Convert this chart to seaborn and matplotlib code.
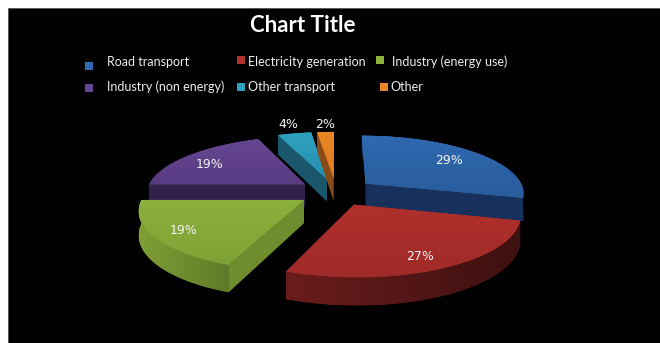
import numpy as np
import matplotlib
matplotlib.use("Agg")
import matplotlib.pyplot as plt
from matplotlib.colors import LinearSegmentedColormap
from matplotlib.patches import Polygon, Rectangle
import seaborn as sns

# ---- data ----
categories = ["Road transport", "Electricity generation", "Industry (energy use)",
              "Industry (non energy)", "Other transport", "Other"]
shares = [29, 27, 19, 19, 4, 2]
top_colors = ["#285c9c", "#a02a28", "#7fa236", "#593c82", "#2890ae", "#dc7a20"]
top_light = ["#2f69b0", "#b0302c", "#8cb03c", "#664692", "#2ea0c0", "#ea8624"]
face_colors = ["#17305c", "#5e1a1a", "#6f8c2e", "#33204c", "#1a566c", "#8a4c16"]
wall_left = ["#1b3766", "#6a1c1c", "#7f9f36", "#33204c", "#1a566c", "#8a4c16"]
wall_right = ["#162c54", "#3e1010", "#5f7a28", "#33204c", "#1a566c", "#8a4c16"]
legend_pos = [(89, 66, 107, 62), (241, 60, 248, 62), (380, 60, 392, 62),
              (89, 88, 107, 87), (241, 87, 248, 87), (384, 87, 390, 87)]
hide_start_wall = [True, False, False, False, False, False]

sns.set_theme(style="white")
plt.rcParams["font.family"] = ["Lato", "DejaVu Sans"]

W, H = 660, 343
fig = plt.figure(figsize=(W / 100, H / 100), dpi=100, facecolor="white")
ax = fig.add_axes([0, 0, 1, 1])
ax.set_xlim(0, W)
ax.set_ylim(H, 0)
ax.axis("off")
ax.add_patch(Rectangle((8, 8), W - 8, H - 8, fc="black", ec="#555555", lw=0.6, zorder=0))

# projection of the pie plane (unit radius) to the pixel scale
CX, CY, R, A, K, DEPTH, EXPL = 336, 192, 159, 57.5, 0.15, 23, 0.24


def proj(u, v, down=0.0):
    s = 1 / (1 + K * v)
    return CX + R * u * s, CY - A * v * s + DEPTH * down * s


def slice_pts(t0, t1, ex_u, ex_v):
    th = np.radians(np.linspace(t0, t1, 60))
    return np.sin(th) + ex_u, np.cos(th) + ex_v


def gradient_fill(pts, c0, c1, z, vertical=True):
    poly = Polygon(pts, closed=True, fc=c0, ec="none", zorder=z)
    ax.add_patch(poly)
    x0, y0 = pts.min(axis=0)
    x1, y1 = pts.max(axis=0)
    cmap = LinearSegmentedColormap.from_list("g", [c0, c1])
    ramp = np.linspace(0, 1, 64)
    img = ramp[:, None] if vertical else ramp[None, :]
    im = ax.imshow(img, extent=(x0, x1, y1, y0), cmap=cmap, aspect="auto",
                   zorder=z, interpolation="bilinear")
    im.set_clip_path(poly)


bounds = np.concatenate([[0], np.cumsum(shares)]) / sum(shares) * 360
order = [4, 5, 0, 3, 2, 1]
for rank, i in enumerate(order):
    t0, t1 = bounds[i], bounds[i + 1]
    mid = np.radians((t0 + t1) / 2)
    eu, ev = EXPL * np.sin(mid), EXPL * np.cos(mid)
    u, v = slice_pts(t0, t1, eu, ev)
    z = 1 + rank
    # radial walls and outer wall, far ones first
    walls = [(np.array([eu, u[-1]]), np.array([ev, v[-1]]), False), (u, v, True)]
    if not hide_start_wall[i]:
        walls.append((np.array([eu, u[0]]), np.array([ev, v[0]]), False))
    walls.sort(key=lambda w: -np.mean(w[1]))
    for wu, wv, outer in walls:
        xa, ya = proj(wu, wv)
        xb, yb = proj(wu, wv, 1.0)
        pts = np.column_stack([np.r_[xa, xb[::-1]], np.r_[ya, yb[::-1]]])
        if outer:
            gradient_fill(pts, wall_left[i], wall_right[i], z, vertical=False)
        else:
            ax.add_patch(Polygon(pts, closed=True, fc=face_colors[i], ec="none", zorder=z))
    # top surface
    xt, yt = proj(np.r_[eu, u], np.r_[ev, v])
    gradient_fill(np.column_stack([xt, yt]), top_light[i], top_colors[i], z + 0.5)

ax.set_xlim(0, W)
ax.set_ylim(H, 0)

# percentage labels
label_xy = [(449, 160), (420, 256), (184, 231), (210, 164), (288, 124), (325, 124)]
for share, (lx, ly) in zip(shares, label_xy):
    ax.text(lx, ly, f"{share}%", color="#f4f4f4", fontsize=9, ha="center", va="center",
            family="DejaVu Sans", zorder=20)

ax.text(303, 25, "Chart Title", color="white", fontsize=16, fontweight="bold",
        ha="center", va="center", zorder=20)

for name, col, (mx, my, tx, ty) in zip(categories, top_light, legend_pos):
    ax.scatter([mx], [my], marker="s", s=30, color=col, linewidths=0, zorder=20)
    ax.text(tx, ty, name, color="#eeeeee", fontsize=9, ha="left", va="center", zorder=20)

fig.savefig("out.png", dpi=100, facecolor="white")
